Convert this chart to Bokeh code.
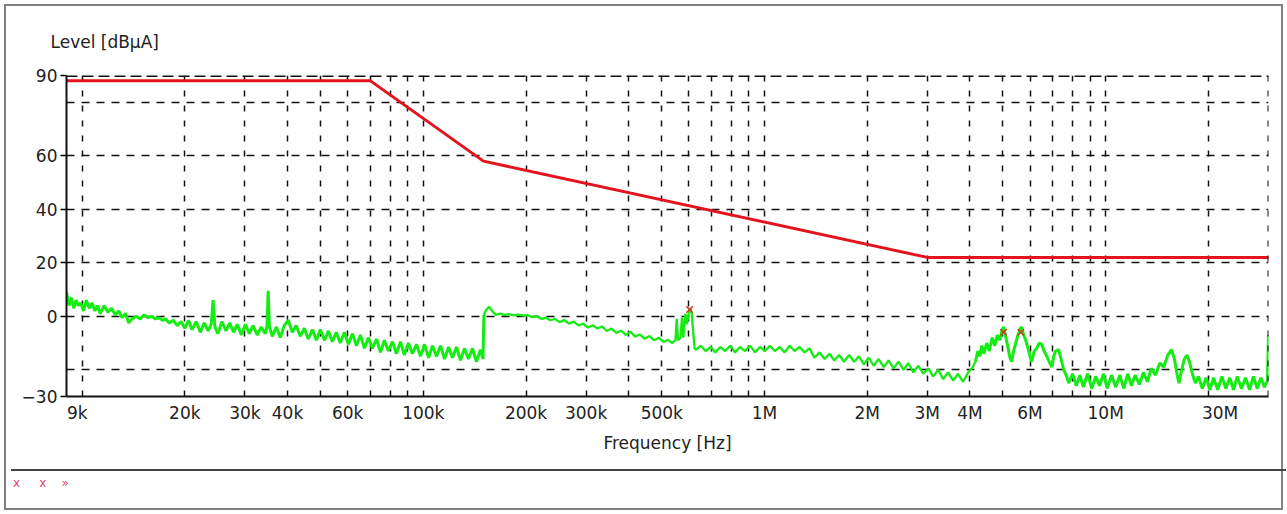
from bokeh.plotting import figure
from bokeh.models import FixedTicker, Span, Div, Range1d
from bokeh.layouts import column
from bokeh.embed import file_html
from bokeh.resources import INLINE

# ---------------- data ----------------
# limit line (Hz, dBuA)
limit_freq_hz = [9e3, 70e3, 150e3, 3e6, 30e6]
limit_level = [88, 88, 58, 22, 22]

# measured trace, 9 kHz - 150 kHz (kHz)
trace_a_khz = [9.0, 9.15, 9.3, 9.45, 9.6, 9.75, 9.9, 10.1, 10.3, 10.5,
               10.7, 10.9, 11.1, 11.3, 11.6, 11.9, 12.2, 12.5, 12.8, 13.1,
               13.4, 13.7, 14.0, 14.4, 14.8, 15.2, 15.6, 16.0, 16.4, 16.8,
               17.2, 17.6, 18.0, 18.5, 19.0, 19.5, 20.0,
               20.5, 21, 21.6, 22.2, 22.8, 23.4, 23.9, 24.2, 24.5, 25,
               25.7, 26.4, 27.1, 27.8, 28.5, 29.3, 30.1, 30.9, 31.7, 32.6,
               33.5, 34.4, 34.8, 35.1, 35.4, 36.1, 37.1, 38.1, 39.1, 40.2,
               41.3, 42.4, 43.6, 44.8, 46.0, 47.3, 48.6, 49.9, 51.3, 52.7,
               54.1, 55.6, 57.1, 58.7, 60.3, 62.0, 63.7, 65.4, 67.2, 69.0,
               70.9, 72.9, 74.9, 76.9, 79.0, 81.2, 83.4, 85.7, 88.0, 90.4,
               92.9, 95.5, 98.1, 100.8, 103.6, 106.4, 109.3, 112.3, 115.4, 118.6,
               121.8, 125.1, 128.5, 132.0, 135.6, 139.3, 143.1, 147.0, 149.6]
trace_a_level = [9, 4, 7, 3, 6, 4, 5, 2, 6, 3,
                 5, 2, 4, 1, 4, 1.5, 3, 0.5, 2, -0.5,
                 1, -2.5, -1, 0, -1, 0.5, -0.5, 0, -1, -0.5,
                 -1.5, -1, -2.5, -1.5, -3.5, -2, -4.5,
                 -1.5, -5, -2, -6, -2.5, -5.5, -3, 6, -4, -6.5,
                 -2, -5.5, -2.5, -6, -3, -7, -3, -6.5, -3.5, -7,
                 -4, -6.5, -4, 9.5, -4, -7.5, -4, -8, -3.5, -1.5,
                 -6, -3.5, -7.5, -4.5, -8.5, -5, -9, -5, -9, -5.5,
                 -9.5, -6, -10, -6, -10.5, -6.5, -11, -7, -12, -8,
                 -12, -8.5, -13.5, -9, -13, -9.5, -14, -9.5, -14.5, -10,
                 -14, -10.5, -15, -10.5, -15.5, -11, -15, -11, -16, -11.5,
                 -15.5, -11.5, -16.5, -12, -16, -12, -17, -12.5, -16]

# measured trace, 150 kHz - 4.1 MHz (kHz)
trace_b_khz = [150.5, 153, 156, 159, 163, 168, 173, 178, 184, 190,
               196, 202, 208, 215, 222, 229, 236, 243, 251, 259,
               267, 276, 285, 294, 304, 314, 324, 334, 345, 356,
               368, 380, 392, 405, 418, 431, 445, 460, 475, 490,
               506, 522, 535, 548, 553, 558, 567, 573, 578, 586,
               592, 600, 606, 612, 618, 624,
               630, 650, 672, 695, 718, 742, 767, 793, 820, 848,
               877, 907, 938, 970, 1003, 1037, 1072, 1108, 1146, 1185,
               1225, 1267, 1310, 1355, 1400, 1450, 1500, 1550, 1600, 1655,
               1710, 1770, 1830, 1890, 1955, 2020, 2090, 2160, 2235, 2310,
               2390, 2470, 2555, 2640, 2730, 2825, 2920, 3020, 3120, 3230,
               3340, 3450, 3570, 3690, 3820, 3950, 4080]
trace_b_level = [0.5, 2.5, 3.5, 2, 0.5, 1, 0.5, 0.8, 0.3, 0.6,
                 0.2, 0.4, -0.3, 0, -1, -0.6, -1.5, -1, -2.2, -1.4,
                 -2.8, -2, -3.4, -2.8, -4.2, -3.4, -4.6, -3.8, -5.5, -4.6,
                 -6.2, -5.4, -7, -5.8, -7.6, -6.8, -8.4, -7.4, -9, -8,
                 -9.6, -8.8, -10, -9, -1, -9, -8, -0.5, -8, 1,
                 -3, 1.5, 3, 1, -6, -12,
                 -12.5, -11, -13, -11.5, -13.5, -11.5, -13, -11, -13.5, -11.5,
                 -13, -11, -13.5, -11.5, -13, -11, -13, -11.5, -13.5, -11,
                 -13, -11.5, -13.5, -12, -15.5, -13.5, -16, -14, -16.5, -14.5,
                 -17, -14.5, -17, -15, -18, -15.5, -18.5, -16, -19, -16.5,
                 -19.5, -17, -20, -17.5, -21, -18.5, -21.5, -19.5, -22.5, -20,
                 -23.5, -21, -24, -21.5, -24.5, -21, -19]

# measured trace, 4.1 MHz - 30 MHz (MHz)
trace_c_mhz = [4.15, 4.22, 4.28, 4.33, 4.40, 4.48, 4.56, 4.65, 4.73, 4.81,
               4.90, 4.97, 5.02, 5.08, 5.16, 5.23, 5.30, 5.37, 5.45, 5.53,
               5.60, 5.67, 5.75, 5.83, 5.92, 6.00, 6.07, 6.17, 6.28, 6.38,
               6.49, 6.60, 6.72, 6.83, 6.95, 7.04, 7.13, 7.28, 7.40, 7.53,
               7.66, 7.79, 8.0, 8.2, 8.4, 8.6, 8.85, 9.1, 9.35, 9.6,
               9.85, 10.1, 10.4, 10.7, 11.0, 11.3, 11.6, 11.9, 12.2, 12.55,
               12.9, 13.25, 13.6, 14.0, 14.4, 14.8, 15.2, 15.6, 15.9, 16.2,
               16.4, 16.7, 17.0, 17.3, 17.6, 17.9, 18.3, 18.7, 19.2, 19.7,
               20.2, 20.7, 21.3, 21.9, 22.5, 23.1, 23.7, 24.3, 25.0, 25.7,
               26.4, 27.1, 27.8, 28.5, 29.2, 29.8, 30.0]
trace_c_level = [-17, -13, -15, -11, -14, -10, -13, -8, -11, -7,
                 -9, -5, -4, -7, -11, -15, -17, -13, -10, -7,
                 -5, -4, -7, -9, -12, -15, -17, -13, -12, -10,
                 -10.5, -13, -15, -17, -19, -15, -13, -12.5, -16, -20,
                 -22, -25, -21.5, -26, -22, -26.5, -21.5, -27, -22.5, -26,
                 -21.5, -27, -22, -26.5, -22, -27, -21.5, -26, -22, -25.5,
                 -21, -24.5, -19.5, -22, -17.5, -19, -14.5, -12.5, -16, -22,
                 -25, -20, -16, -14.5, -17, -21, -25, -22.5, -27, -23,
                 -27.5, -23, -27.5, -22.5, -27, -23, -27.5, -22.5, -27, -23,
                 -27.5, -22.5, -27, -23, -26.5, -24, -7]

# peak markers
marker_freq_hz = [603e3, 5.02e6, 5.64e6]
marker_level = [2.5, -6, -6]

# axes
FS_PAD = "\u2007"
x_tick_values = [9000, 20000, 30000, 40000, 60000, 100000, 200000, 300000, 500000,
                 1000000, 2000000, 3000000, 4000000, 6000000, 10000000, 30000000]
x_tick_labels = [FS_PAD * 2 + "9k", "20k", "30k", "40k", "60k", "100k", "200k", "300k", "500k",
                 "1M", "2M", "3M", "4M", "6M", "10M", "30M" + FS_PAD * 4]
x_grid_values = [10000, 20000, 30000, 40000, 50000, 60000, 70000, 80000, 90000,
                 100000, 200000, 300000, 400000, 500000, 600000, 700000, 800000, 900000,
                 1000000, 2000000, 3000000, 4000000, 5000000, 6000000, 7000000,
                 8000000, 9000000, 10000000, 20000000]
y_tick_values = [-30, 0, 20, 40, 60, 90]
y_grid_values = [-20, 0, 20, 40, 60, 80]

fa = [f * 1e3 for f in trace_a_khz]
fb = [f * 1e3 for f in trace_b_khz]
fc = [f * 1e6 for f in trace_c_mhz]

FONT = "DejaVu Sans"
FS = "17px"

p = figure(width=1275, height=458, x_axis_type="log",
           x_range=Range1d(9000, 30e6), y_range=Range1d(-30, 90),
           output_backend="svg", toolbar_location=None,
           min_border_left=60, min_border_right=13,
           min_border_top=68, min_border_bottom=68)
p.outline_line_color = None
p.background_fill_color = "white"
p.border_fill_color = "white"

# title as y-axis caption
p.title.text = "Level [dBµA]"
p.title.align = "left"
p.title.offset = -16
p.title.standoff = 47
p.title.text_font = FONT
p.title.text_font_size = FS
p.title.text_font_style = "normal"
p.title.text_color = "#222222"

# grids
p.xgrid.ticker = FixedTicker(ticks=x_grid_values)
p.xgrid.grid_line_color = "#111111"
p.xgrid.grid_line_width = 1.5
p.xgrid.grid_line_dash = "6 9"
p.ygrid.ticker = FixedTicker(ticks=y_grid_values)
p.ygrid.grid_line_color = "#111111"
p.ygrid.grid_line_width = 1.5
p.ygrid.grid_line_dash = "8 7"

# x axis
xa = p.xaxis[0]
xa.ticker = FixedTicker(ticks=x_tick_values)
xa.major_label_overrides = {v: t for v, t in zip(x_tick_values, x_tick_labels)}
xa.major_tick_out = 0
xa.major_tick_in = 0
xa.minor_tick_line_color = None
xa.axis_line_width = 2
xa.axis_line_color = "#111111"
xa.major_label_standoff = 6
xa.major_label_text_font = FONT
xa.major_label_text_font_size = FS
xa.major_label_text_color = "#222222"
xa.axis_label = "Frequency [Hz]"
xa.axis_label_standoff = 7
xa.axis_label_text_font = FONT
xa.axis_label_text_font_size = FS
xa.axis_label_text_font_style = "normal"
xa.axis_label_text_color = "#222222"

# y axis
ya = p.yaxis[0]
ya.ticker = FixedTicker(ticks=y_tick_values)
ya.major_tick_out = 6
ya.major_tick_in = 0
ya.major_tick_line_width = 1.5
ya.minor_tick_line_color = None
ya.axis_line_width = 2
ya.axis_line_color = "#111111"
ya.major_label_standoff = 3
ya.major_label_text_font = FONT
ya.major_label_text_font_size = FS
ya.major_label_text_color = "#222222"

# top and right dashed borders
p.add_layout(Span(location=90, dimension="width", line_color="#111111",
                  line_width=3, line_dash="11 5"))
p.add_layout(Span(location=30e6, dimension="height", line_color="#111111",
                  line_width=2, line_dash="6 9"))

# data (noisy parts drawn a bit heavier)
GREEN = "#14ec14"
p.line(fa + fb[:1], trace_a_level + trace_b_level[:1], line_color=GREEN, line_width=3)
p.line(fb + fc[:1], trace_b_level + trace_c_level[:1], line_color=GREEN, line_width=2.3)
p.line(fc, trace_c_level, line_color=GREEN, line_width=3)
p.line(limit_freq_hz, limit_level, line_color="#e3141e", line_width=3)
p.scatter(marker_freq_hz, marker_level, marker="x", size=9, line_width=1.5,
          line_color="#c8401e")

legend_div = Div(text='<div style="padding:4px 0 0 2px;color:#e0486a;'
                      'font-family:DejaVu Sans;font-size:12px;">'
                      'x&nbsp;&nbsp;&nbsp;&nbsp;&nbsp;x&nbsp;&nbsp;&nbsp;&nbsp;»</div>',
                 width=1275, height=42,
                 styles={"border-top": "2px solid #444444"})

layout = column(p, legend_div, spacing=0, width=1279, height=506,
                styles={"border": "2px solid #808080", "margin-left": "4px",
                        "margin-top": "4px"})

open("out.html", "w").write(file_html(layout, INLINE))
